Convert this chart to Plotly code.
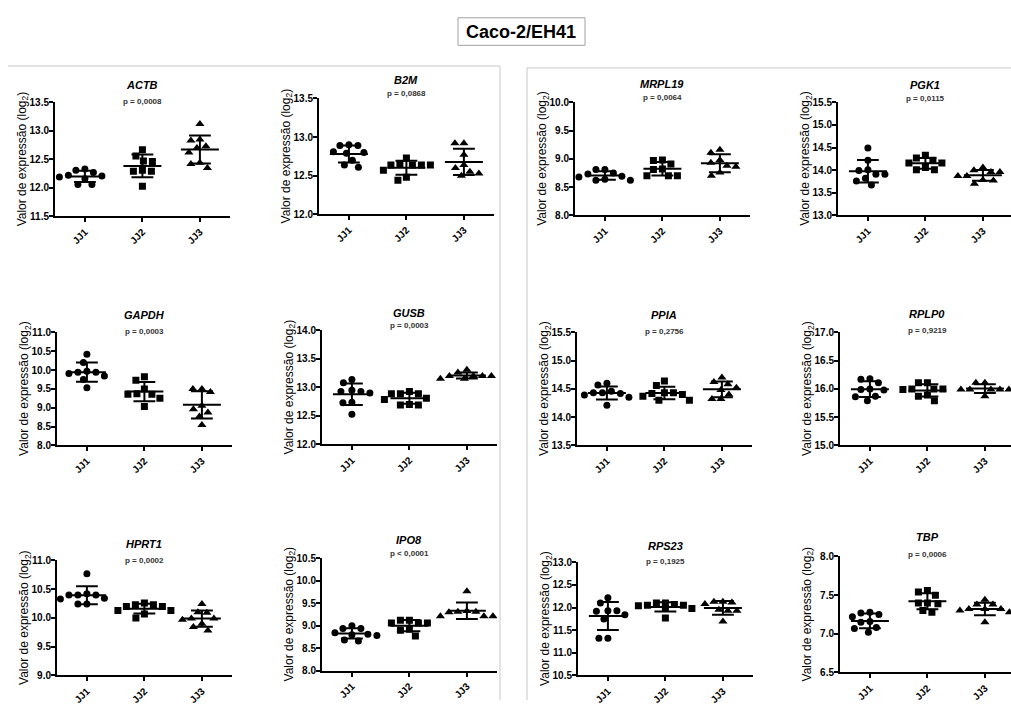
import numpy as np
import plotly.graph_objects as go

W, H = 1011, 706

# ---------------- data ----------------
groups = ["JJ1", "JJ2", "JJ3"]
genes = ["ACTB", "B2M", "MRPL19", "PGK1",
         "GAPDH", "GUSB", "PPIA", "RPLP0",
         "HPRT1", "IPO8", "RPS23", "TBP"]
p_labels = ["p = 0,0008", "p = 0,0868", "p = 0,0064", "p = 0,0115",
            "p = 0,0003", "p = 0,0003", "p = 0,2756", "p = 0,9219",
            "p = 0,0002", "p < 0,0001", "p = 0,1925", "p = 0,0006"]

ACTB = [[12.33, 12.31, 12.27, 12.22, 12.21, 12.19, 12.16, 12.06, 12.06],
        [12.67, 12.56, 12.46, 12.47, 12.29, 12.29, 12.31, 12.03],
        [13.12, 12.85, 12.83, 12.73, 12.70, 12.62, 12.44, 12.42, 12.35]]
B2M = [[12.89, 12.90, 12.89, 12.80, 12.79, 12.81, 12.70, 12.61, 12.64],
       [12.73, 12.64, 12.64, 12.64, 12.64, 12.65, 12.57, 12.44, 12.48],
       [12.92, 12.92, 12.77, 12.64, 12.60, 12.53, 12.55, 12.50]]
MRPL19 = [[8.81, 8.81, 8.75, 8.73, 8.69, 8.68, 8.62, 8.62, 8.64],
          [8.98, 8.97, 8.91, 8.81, 8.82, 8.70, 8.70, 8.70],
          [9.16, 9.11, 8.98, 8.88, 8.86, 8.93, 8.70, 8.76]]
PGK1 = [[14.49, 14.22, 14.01, 13.99, 13.91, 13.91, 13.82, 13.76, 13.67],
        [14.33, 14.27, 14.16, 14.22, 14.16, 14.06, 14.01, 14.01],
        [14.06, 14.00, 13.96, 13.96, 13.87, 13.87, 13.78, 13.77, 13.70]]
GAPDH = [[10.42, 10.20, 9.94, 9.94, 9.97, 9.91, 9.84, 9.75, 9.53],
         [9.82, 9.73, 9.50, 9.37, 9.36, 9.36, 9.25, 9.03],
         [9.50, 9.50, 9.42, 9.05, 8.87, 8.96, 8.77, 8.54]]
GUSB = [[13.14, 13.08, 12.93, 12.93, 12.90, 12.95, 12.74, 12.73, 12.53],
        [12.93, 12.89, 12.89, 12.89, 12.81, 12.79, 12.69, 12.69, 12.70],
        [13.31, 13.26, 13.20, 13.20, 13.20, 13.20, 13.15, 13.15]]
PPIA = [[14.57, 14.60, 14.46, 14.43, 14.42, 14.39, 14.43, 14.35, 14.21],
        [14.64, 14.56, 14.40, 14.43, 14.43, 14.42, 14.37, 14.30, 14.30],
        [14.70, 14.62, 14.58, 14.52, 14.48, 14.40, 14.32, 14.32]]
RPLP0 = [[16.11, 16.18, 16.17, 15.99, 15.98, 16.00, 15.87, 15.86, 15.79],
         [16.11, 16.11, 16.00, 16.00, 16.00, 15.99, 15.89, 15.87, 15.79],
         [16.11, 16.11, 15.99, 15.99, 15.99, 15.99, 15.99, 15.87]]
HPRT1 = [[10.77, 10.42, 10.40, 10.40, 10.40, 10.34, 10.33, 10.24, 10.24],
         [10.26, 10.23, 10.23, 10.20, 10.20, 10.13, 10.13, 10.07, 10.00],
         [10.24, 10.10, 10.09, 9.99, 9.97, 9.99, 9.90, 9.78, 9.84]]
IPO8 = [[9.00, 8.94, 8.94, 8.81, 8.84, 8.80, 8.78, 8.68, 8.66],
        [9.12, 9.06, 9.06, 9.12, 9.06, 8.92, 8.90, 8.77],
        [9.77, 9.33, 9.30, 9.31, 9.31, 9.21, 9.21, 9.21]]
RPS23 = [[12.22, 12.10, 11.93, 11.92, 11.93, 11.84, 11.75, 11.32, 11.32],
         [12.07, 12.05, 12.04, 12.05, 12.10, 12.10, 11.98, 11.98, 11.77],
         [12.11, 12.13, 12.13, 12.08, 11.93, 11.93, 11.95, 11.69]]
TBP = [[7.28, 7.27, 7.16, 7.15, 7.22, 7.25, 7.08, 7.07, 7.02],
       [7.56, 7.54, 7.50, 7.40, 7.39, 7.40, 7.28, 7.30],
       [7.44, 7.38, 7.38, 7.32, 7.32, 7.32, 7.30, 7.28, 7.15]]

values = [ACTB, B2M, MRPL19, PGK1, GAPDH, GUSB, PPIA, RPLP0, HPRT1, IPO8, RPS23, TBP]

# y-axis ranges per panel
y_ranges = [(11.5, 13.5), (12.0, 13.5), (8.0, 10.0), (13.0, 15.5),
            (8.0, 11.0), (12.0, 14.0), (13.5, 15.5), (15.0, 17.0),
            (9.0, 11.0), (8.0, 10.5), (10.5, 13.0), (6.5, 8.0)]

# ---------------- layout (pixels) ----------------
# x_left, y_top, y_bottom, title_y, p_y
geom = [(55, 98, 214, 80, 97), (319, 94, 212, 75, 89), (575, 98, 213, 79, 93), (838, 98, 213, 80, 94),
        (57, 332, 447, 314, 331), (322, 330, 446, 312, 325), (577, 332, 447, 314, 331), (840, 332, 447, 313, 330),
        (57, 564, 681, 547, 564), (322, 562, 676, 543, 557), (578, 566, 681, 549, 565), (840, 560, 678, 540, 558)]

CAT_PX = 57.5
X_LO = 0.48
X_W = 175
symbols = ["circle", "square", "triangle-up"]
msizes = [7, 7, 8]
FONT = "Liberation Sans, Arial, sans-serif"


def swarm(vals, ppu, diam=9.0):
    vals = np.asarray(vals, float)
    order = np.argsort(-vals, kind="stable")
    cands = sorted(np.arange(-32, 32.5, 0.5), key=lambda c: (abs(c), c))
    placed = []
    offs = np.zeros(len(vals))
    for i in order:
        y = vals[i] * ppu
        for c in cands:
            if all((c - px) ** 2 + (y - py) ** 2 >= diam ** 2 for px, py in placed):
                offs[i] = c
                placed.append((c, y))
                break
    return offs / CAT_PX


fig = go.Figure()
layout = dict(width=W, height=H, margin=dict(l=0, r=0, t=0, b=0),
              paper_bgcolor="white", plot_bgcolor="white", showlegend=False,
              font=dict(family=FONT, color="black", size=10))
annotations = []
shapes = []

for k in range(12):
    i = k + 1
    xa = "x" if i == 1 else f"x{i}"
    ya = "y" if i == 1 else f"y{i}"
    x0, yt, yb, ty, py = geom[k]
    x1 = min(x0 + X_W, W)
    lo, hi = y_ranges[k]
    ppu = (yb - yt) / (hi - lo)

    line_x, line_y = [], []
    for g in range(3):
        v = np.array(values[k][g])
        offs = swarm(v, ppu)
        fig.add_trace(go.Scatter(
            x=(g + 1) + offs, y=v, mode="markers", xaxis=xa, yaxis=ya,
            marker=dict(symbol=symbols[g], size=msizes[g], color="black", line=dict(width=0)),
            hoverinfo="skip"))
        m = v.mean()
        sd = v.std(ddof=1)
        c = g + 1
        line_x += [c - 0.33, c + 0.33, None, c - 0.19, c + 0.19, None,
                   c - 0.19, c + 0.19, None, c, c, None]
        line_y += [m, m, None, m + sd, m + sd, None, m - sd, m - sd, None,
                   m - sd, m + sd, None]
    fig.add_trace(go.Scatter(x=line_x, y=line_y, mode="lines", xaxis=xa, yaxis=ya,
                             line=dict(color="black", width=2), hoverinfo="skip"))

    layout["xaxis" if i == 1 else f"xaxis{i}"] = dict(
        domain=[x0 / W, x1 / W], anchor=ya,
        range=[X_LO, X_LO + (x1 - x0) / CAT_PX],
        tickvals=[1, 2, 3], ticktext=groups, tickangle=-45,
        tickfont=dict(size=10, family=FONT, weight="bold"),
        ticks="outside", ticklen=4, tickwidth=2, tickcolor="black",
        showline=True, linecolor="black", linewidth=2,
        showgrid=False, zeroline=False, fixedrange=True)
    layout["yaxis" if i == 1 else f"yaxis{i}"] = dict(
        domain=[1 - yb / H, 1 - yt / H], anchor=xa,
        range=[lo, hi], dtick=0.5, tick0=lo, tickformat=".1f",
        tickfont=dict(size=10, family=FONT, weight="bold"),
        ticks="outside", ticklen=4, tickwidth=2, tickcolor="black",
        ticklabelstandoff=-2,
        showline=True, linecolor="black", linewidth=2,
        showgrid=False, zeroline=False, fixedrange=True)

    xc = x0 + (2 - X_LO) * CAT_PX
    annotations.append(dict(x=xc / W, y=1 - ty / H, xref="paper", yref="paper",
                            text=f"<b><i>{genes[k]}</i></b>", showarrow=False,
                            xanchor="center", yanchor="middle",
                            font=dict(size=11, family=FONT, color="black")))
    annotations.append(dict(x=xc / W, y=1 - py / H, xref="paper", yref="paper",
                            text=f"<b>{p_labels[k]}</b>", showarrow=False,
                            xanchor="center", yanchor="middle",
                            font=dict(size=8, family=FONT, color="#333333")))
    annotations.append(dict(x=(x0 - 32) / W, y=1 - (yt + yb) / 2 / H, xref="paper", yref="paper",
                            text="Valor de expressão (log<sub>2</sub>)", showarrow=False,
                            textangle=-90, xanchor="center", yanchor="middle",
                            font=dict(size=12, family=FONT, color="black")))

# overall title
annotations.append(dict(x=521 / W, y=1 - 26 / H, xref="paper", yref="paper",
                        text="<b>Caco-2/EH41</b>", showarrow=False,
                        xanchor="center", yanchor="middle",
                        font=dict(size=18, family=FONT, color="black")))
shapes.append(dict(type="rect", xref="paper", yref="paper",
                   x0=458 / W, x1=585 / W, y0=1 - 40 / H, y1=1 - 12 / H,
                   line=dict(color="#a0a0a0", width=1)))
# group frames
gray = "#c8c8c8"
for (a, b, c, d) in [(8, 61, 500, 61), (500, 61, 500, 706), (527, 63, 1011, 63), (527, 63, 527, 706)]:
    shapes.append(dict(type="line", xref="paper", yref="paper",
                       x0=a / W, x1=c / W, y0=1 - b / H, y1=1 - d / H,
                       line=dict(color=gray, width=1)))

layout["annotations"] = annotations
layout["shapes"] = shapes
fig.update_layout(**layout)
fig.write_html("out.html")
